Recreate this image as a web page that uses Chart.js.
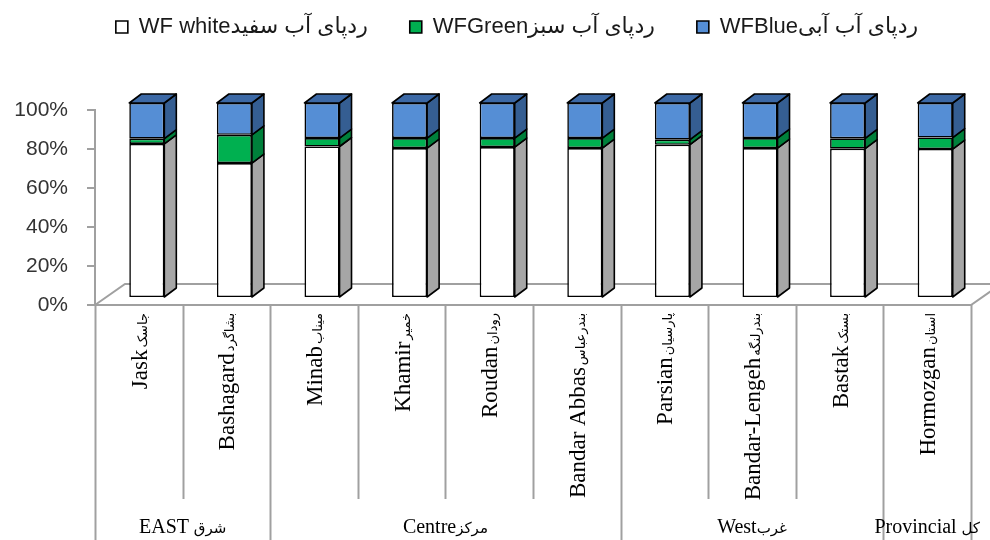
<!DOCTYPE html>
<html>
<head>
<meta charset="utf-8">
<script src="https://cdn.jsdelivr.net/npm/chart.js@4.4.1/dist/chart.umd.min.js"></script>
<style>
  html, body { margin: 0; padding: 0; background: #fff; }
  #wrap { width: 990px; height: 540px; }
</style>
</head>
<body>
<div id="wrap"><canvas id="c" width="990" height="540"></canvas></div>
<script>
// Districts of Hormozgan (English name + Persian name)
const categories   = ['Jask', 'Bashagard', 'Minab', 'Khamir', 'Roudan', 'Bandar Abbas', 'Parsian', 'Bandar-Lengeh', 'Bastak', 'Hormozgan'];
const categoriesFa = ['جاسک', 'بشاگرد', 'میناب', 'خمیر', 'رودان', 'بندرعباس', 'پارسیان', 'بندرلنگه', 'بستک', 'استان'];

// Share of each water footprint component (%)
const whiteShare = [79.0, 69.2, 77.7, 76.9, 77.4, 76.9, 78.6, 76.9, 76.6, 76.4];
const greenShare = [2.7, 14.5, 4.3, 5.1, 4.6, 5.1, 2.6, 5.1, 5.3, 5.9];
const blueShare  = [18.3, 16.3, 18.0, 18.0, 18.0, 18.0, 18.8, 18.0, 18.1, 17.7];

// Regional grouping of the districts
const groupNames   = ['EAST', 'Centre', 'West', 'Provincial'];
const groupNamesFa = [' شرق', 'مرکز', 'غرب', ' کل'];
const groupSizes   = [2, 4, 3, 1];

// Value axis
const yTicks = [0, 20, 40, 60, 80, 100];

const seriesLabels = ['WF whiteردپای آب سفید', 'WFGreenردپای آب سبز', 'WFBlueردپای آب آبی'];

// Drawing constants
const AXIS_GRAY = '#a0a0a0';
const PLOT_TOP = 110;
const LAYOUT_TOP = -26;
const LEGEND_LEFT = 63;
const SHIFT = { dx: 8, dy: -7 };    // bars sit a little behind the front edge of the floor
const DEPTH = { dx: 12, dy: -9 };   // bar depth
const FLOOR = { dx: 30, dy: -21 };  // floor depth

function face(ctx, pts, fill) {
  ctx.beginPath();
  ctx.moveTo(pts[0][0], pts[0][1]);
  for (let k = 1; k < pts.length; k++) ctx.lineTo(pts[k][0], pts[k][1]);
  ctx.closePath();
  ctx.fillStyle = fill;
  ctx.fill();
  ctx.stroke();
}

// Fixed-height legend band (plot starts at PLOT_TOP); legend row centred right of the value axis
const legendRoom = {
  id: 'legendRoom',
  beforeLayout(chart) {
    const legend = chart.legend;
    if (legend && !legend._roomPatched) {
      const fit = legend.fit;
      legend.fit = function () {
        fit.call(this);
        this.height = PLOT_TOP - LAYOUT_TOP;
      };
      legend._roomPatched = true;
    }
  },
  afterLayout(chart) {
    const legend = chart.legend;
    if (legend) {
      legend.left = LEGEND_LEFT;
      legend.width = legend.right - LEGEND_LEFT;
    }
  }
};

// Floor, bar sides and tops of the 3-D columns
const bars3d = {
  id: 'bars3d',
  beforeDatasetsDraw(chart) {
    const { ctx, chartArea: a } = chart;
    ctx.save();
    ctx.strokeStyle = AXIS_GRAY;
    ctx.lineWidth = 2;
    ctx.beginPath();
    ctx.moveTo(a.left, a.bottom);
    ctx.lineTo(a.left + FLOOR.dx, a.bottom + FLOOR.dy);
    ctx.lineTo(a.right + FLOOR.dx + 40, a.bottom + FLOOR.dy);
    ctx.moveTo(a.left, a.bottom);
    ctx.lineTo(a.right, a.bottom);
    ctx.lineTo(a.right + FLOOR.dx, a.bottom + FLOOR.dy);
    ctx.stroke();
    ctx.restore();
    ctx.save();
    ctx.translate(SHIFT.dx, SHIFT.dy);
  },
  afterDatasetsDraw(chart) {
    const ctx = chart.ctx;
    const sets = chart.data.datasets;
    const last = sets.length - 1;
    ctx.strokeStyle = '#000';
    ctx.lineWidth = 1.6;
    ctx.lineJoin = 'round';
    sets.forEach((ds, d) => {
      const meta = chart.getDatasetMeta(d);
      meta.data.forEach(el => {
        const p = el.getProps(['x', 'y', 'base', 'width'], true);
        const l = p.x - p.width / 2, r = p.x + p.width / 2;
        const t = Math.min(p.y, p.base), b = Math.max(p.y, p.base);
        face(ctx, [[r, t], [r + DEPTH.dx, t + DEPTH.dy], [r + DEPTH.dx, b + DEPTH.dy], [r, b]], ds.sideColor);
        if (d === last) {
          face(ctx, [[l, t], [l + DEPTH.dx, t + DEPTH.dy], [r + DEPTH.dx, t + DEPTH.dy], [r, t]], ds.topColor);
        }
      });
    });
    ctx.restore();
  }
};

// Two-level category axis: district names and regional groups
const categoryAxis = {
  id: 'categoryAxis',
  afterDraw(chart) {
    const { ctx, chartArea: a, scales: { x } } = chart;
    const n = categories.length;
    const slot = (a.right - a.left) / n;
    const edge = k => (k < n ? x.getPixelForValue(k) - slot / 2 : x.getPixelForValue(n - 1) + slot / 2);

    const groupEdges = new Set([0]);
    let acc = 0;
    groupSizes.forEach(s => { acc += s; groupEdges.add(acc); });

    ctx.save();
    ctx.strokeStyle = AXIS_GRAY;
    ctx.lineWidth = 2;
    for (let k = 0; k <= n; k++) {
      const px = Math.round(edge(k)) + 0.5;
      ctx.beginPath();
      ctx.moveTo(px, a.bottom);
      ctx.lineTo(px, groupEdges.has(k) ? 540 : 499);
      ctx.stroke();
    }

    // district labels, reading upward
    ctx.fillStyle = '#000';
    ctx.textBaseline = 'alphabetic';
    ctx.textAlign = 'right';
    categories.forEach((name, i) => {
      const cx = x.getPixelForValue(i);
      ctx.save();
      ctx.translate(cx + 8, a.bottom + 8);
      ctx.rotate(-Math.PI / 2);
      ctx.font = '13px "DejaVu Sans"';
      const wFa = ctx.measureText(categoriesFa[i]).width;
      ctx.fillText(categoriesFa[i], 0, 0);
      ctx.font = '23px "Liberation Serif"';
      ctx.fillText(name, -(wFa + 2), 0);
      ctx.restore();
    });

    // region labels
    let start = 0;
    groupNames.forEach((g, j) => {
      const cx = (edge(start) + edge(start + groupSizes[j])) / 2;
      start += groupSizes[j];
      ctx.font = '20px "Liberation Serif"';
      const wEn = ctx.measureText(g).width;
      ctx.font = '15px "DejaVu Sans"';
      const wFa = ctx.measureText(groupNamesFa[j]).width;
      const x0 = cx - (wEn + wFa) / 2;
      ctx.textAlign = 'left';
      ctx.font = '20px "Liberation Serif"';
      ctx.fillText(g, x0, 533);
      ctx.font = '15px "DejaVu Sans"';
      ctx.fillText(groupNamesFa[j], x0 + wEn, 533);
    });
    ctx.restore();
  }
};

new Chart(document.getElementById('c'), {
  type: 'bar',
  data: {
    labels: categories,
    datasets: [
      { label: seriesLabels[0], data: whiteShare, backgroundColor: '#ffffff', sideColor: '#a6a6a6', topColor: '#d9d9d9' },
      { label: seriesLabels[1], data: greenShare, backgroundColor: '#00b050', sideColor: '#00803b', topColor: '#00a048' },
      { label: seriesLabels[2], data: blueShare,  backgroundColor: '#558ed5', sideColor: '#355e92', topColor: '#3c69a6' }
    ].map(ds => Object.assign(ds, {
      borderColor: '#000',
      borderWidth: 1.6,
      borderSkipped: false,
      barPercentage: 0.4,
      categoryPercentage: 1,
      clip: false
    }))
  },
  options: {
    responsive: false,
    animation: false,
    layout: { padding: { top: LAYOUT_TOP, left: 0, right: 19, bottom: 235 } },
    plugins: {
      tooltip: { enabled: false },
      legend: {
        position: 'top',
        labels: {
          boxWidth: 12,
          boxHeight: 12,
          padding: 42,
          color: '#1a1a1a',
          font: { family: '"Liberation Sans", "DejaVu Sans", sans-serif', size: 22 }
        }
      }
    },
    scales: {
      x: { stacked: true, display: false },
      y: {
        stacked: true,
        min: yTicks[0],
        max: yTicks[yTicks.length - 1],
        afterFit(scale) { scale.width = 95; },
        afterBuildTicks(scale) { scale.ticks = yTicks.map(v => ({ value: v })); },
        ticks: {
          padding: 19,
          color: '#333',
          font: { family: '"Liberation Sans", sans-serif', size: 21 },
          callback: v => v + '%'
        },
        grid: { drawOnChartArea: false, drawTicks: true, tickLength: 8, color: AXIS_GRAY, lineWidth: 2 },
        border: { display: true, color: AXIS_GRAY, width: 2 }
      }
    }
  },
  plugins: [legendRoom, bars3d, categoryAxis]
});
</script>
</body>
</html>
